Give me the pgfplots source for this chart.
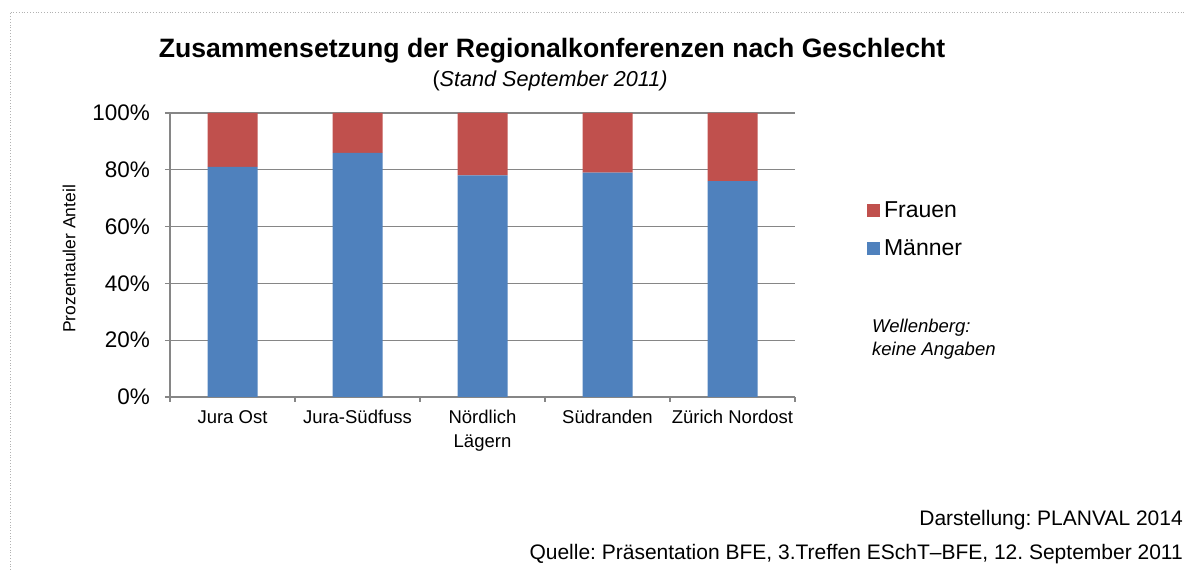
\documentclass[border=0pt]{standalone}
\usepackage{pgfplots}
\pgfplotsset{compat=1.18}
\usepackage{fontspec}
\setmainfont{Liberation Sans}
\definecolor{mblue}{HTML}{4F81BD}
\definecolor{mred}{HTML}{C0504D}
\definecolor{agray}{HTML}{868686}
\newcommand\fs[1]{\fontsize{#1bp}{#1bp}\selectfont}
\frenchspacing
\begin{document}
\frenchspacing
\begin{tikzpicture}
\path[use as bounding box] (0,0) rectangle (1185bp,570bp);
\draw[gray!60, dotted, line width=0.8bp] (10bp,0) -- (10bp,558bp) -- (1185bp,558bp);
\node[anchor=base, inner sep=0pt] at (552bp,512bp) {\fs{26.6}\bfseries Zusammensetzung der Regionalkonferenzen nach Geschlecht};
\node[anchor=base, inner sep=0pt] at (550bp,483bp) {\fs{21.6}(\textit{Stand September 2011)}};
\node[anchor=base west, inner sep=0pt, align=left] at (872bp,237bp) {\fs{18.5}\itshape Wellenberg:};
\node[anchor=base west, inner sep=0pt, align=left] at (872bp,214bp) {\fs{18.5}\itshape keine Angaben};
\node[anchor=base east, inner sep=0pt] at (1183bp,44bp) {\fs{21}Darstellung: PLANVAL 2014};
\node[anchor=base east, inner sep=0pt] at (1183bp,11bp) {\fs{21}Quelle: Präsentation BFE, 3.Treffen ESchT–BFE, 12. September 2011};
\begin{axis}[
  at={(170bp,173bp)}, anchor=south west,
  scale only axis, width=625bp, height=284bp,
  ybar stacked, bar width=0.4,
  xmin=-0.5, xmax=4.5, ymin=0, ymax=100,
  axis x line*=bottom, axis y line*=left,
  axis line style={-, agray, line width=1.3bp},
  ymajorgrids, grid style={agray, line width=1.3bp},
  tick align=outside, major tick length=5bp,
  tick style={agray, line width=1.3bp},
  ytick={0,20,40,60,80,100},
  yticklabels={0\%,20\%,40\%,60\%,80\%,100\%},
  yticklabel style={font=\fs{22.5}, anchor=east, inner sep=0pt, xshift=-15bp},
  xtick={-0.5,0.5,1.5,2.5,3.5,4.5}, xticklabels={},
  extra x ticks={0,1,2,3,4},
  extra x tick labels={Jura Ost, Jura-Südfuss, {Nördlich\\Lägern}, Südranden, Zürich Nordost},
  extra x tick style={major tick length=0pt, tick label style={font=\fontsize{18.5bp}{24bp}\selectfont, align=center, anchor=north, inner sep=0pt, yshift=-13bp}},
  /pgf/number format/assume math mode=true,
  ylabel={Prozentauler Anteil},
  ylabel style={font=\fs{17.5}, at={(axis description cs:-0.1616,0.486)}, anchor=center},
  legend style={at={(1.115,0.694)}, anchor=north west, draw=none, fill=none, font=\fs{23}, row sep=16bp, inner sep=0pt, nodes={inner xsep=4bp}},
  reverse legend,
  legend cell align=left,
  legend image code/.code={\fill[#1] (0bp,-6.5bp) rectangle (13bp,6.5bp);},
]
\addplot[fill=mblue, draw=none] coordinates {(0,81) (1,86) (2,78) (3,79) (4,76)};
\addplot[fill=mred, draw=none] coordinates {(0,19) (1,14) (2,22) (3,21) (4,24)};
\legend{Männer, Frauen}
\end{axis}
\end{tikzpicture}
\end{document}
